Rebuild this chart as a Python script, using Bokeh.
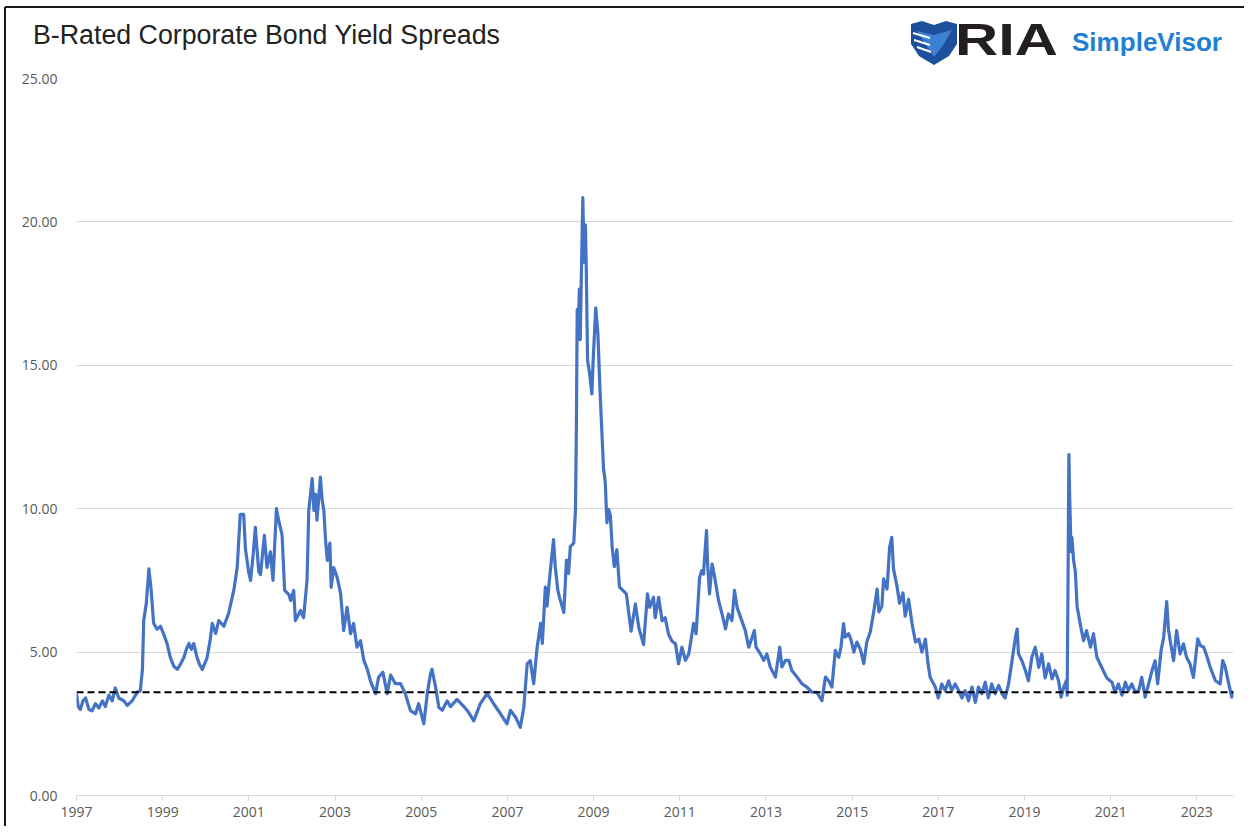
from bokeh.plotting import figure
from bokeh.layouts import column, row
from bokeh.models import (ColumnDataSource, Range1d, FixedTicker, PrintfTickFormatter, Span, Div)
from bokeh.embed import file_html
from bokeh.resources import INLINE

# ---------------- data ----------------
year = [
    1997.00, 1997.04, 1997.09, 1997.15, 1997.21, 1997.29, 1997.36, 1997.44, 1997.52, 1997.60,
    1997.67, 1997.75, 1997.83, 1997.90, 1997.98, 1998.10, 1998.18, 1998.29, 1998.41, 1998.48,
    1998.53, 1998.56, 1998.62, 1998.68, 1998.73, 1998.79, 1998.87, 1998.95, 1999.03, 1999.10,
    1999.18, 1999.26, 1999.34, 1999.42, 1999.49, 1999.55, 1999.61, 1999.67, 1999.72, 1999.80,
    1999.86, 1999.92, 2000.03, 2000.10, 2000.15, 2000.23, 2000.30, 2000.42, 2000.53, 2000.65,
    2000.73, 2000.80, 2000.88, 2000.92, 2001.00, 2001.04, 2001.10, 2001.15, 2001.23, 2001.27,
    2001.36, 2001.42, 2001.50, 2001.56, 2001.64, 2001.69, 2001.77, 2001.83, 2001.93, 2001.97,
    2002.04, 2002.08, 2002.20, 2002.27, 2002.35, 2002.39, 2002.47, 2002.51, 2002.55, 2002.58,
    2002.66, 2002.70, 2002.74, 2002.78, 2002.82, 2002.88, 2002.91, 2002.97, 2003.05, 2003.13,
    2003.20, 2003.28, 2003.36, 2003.43, 2003.51, 2003.59, 2003.67, 2003.75, 2003.82, 2003.94,
    2004.01, 2004.11, 2004.21, 2004.29, 2004.40, 2004.52, 2004.63, 2004.75, 2004.87, 2004.94,
    2005.06, 2005.14, 2005.21, 2005.25, 2005.33, 2005.41, 2005.49, 2005.60, 2005.68, 2005.83,
    2005.99, 2006.10, 2006.22, 2006.37, 2006.53, 2006.68, 2006.84, 2006.99, 2007.07, 2007.19,
    2007.30, 2007.38, 2007.46, 2007.53, 2007.61, 2007.69, 2007.77, 2007.81, 2007.88, 2007.92,
    2007.98, 2008.07, 2008.11, 2008.17, 2008.21, 2008.31, 2008.37, 2008.42, 2008.46, 2008.54,
    2008.58, 2008.60, 2008.62, 2008.64, 2008.67, 2008.69, 2008.71, 2008.75, 2008.78, 2008.81,
    2008.83, 2008.86, 2008.91, 2008.96, 2008.99, 2009.05, 2009.10, 2009.14, 2009.17, 2009.23,
    2009.27, 2009.31, 2009.35, 2009.39, 2009.43, 2009.48, 2009.54, 2009.60, 2009.68, 2009.76,
    2009.87, 2009.97, 2010.05, 2010.16, 2010.25, 2010.30, 2010.39, 2010.43, 2010.51, 2010.59,
    2010.66, 2010.74, 2010.82, 2010.90, 2010.97, 2011.05, 2011.13, 2011.21, 2011.32, 2011.38,
    2011.46, 2011.51, 2011.55, 2011.62, 2011.65, 2011.69, 2011.75, 2011.81, 2011.90, 2011.98,
    2012.06, 2012.13, 2012.21, 2012.27, 2012.33, 2012.41, 2012.52, 2012.60, 2012.68, 2012.73,
    2012.77, 2012.87, 2012.95, 2013.02, 2013.10, 2013.22, 2013.32, 2013.37, 2013.45, 2013.53,
    2013.60, 2013.72, 2013.84, 2013.95, 2014.07, 2014.18, 2014.30, 2014.38, 2014.45, 2014.53,
    2014.61, 2014.69, 2014.74, 2014.80, 2014.84, 2014.92, 2014.98, 2015.04, 2015.11, 2015.19,
    2015.27, 2015.34, 2015.42, 2015.50, 2015.58, 2015.62, 2015.69, 2015.73, 2015.81, 2015.87,
    2015.92, 2015.96, 2016.04, 2016.10, 2016.18, 2016.23, 2016.31, 2016.39, 2016.47, 2016.55,
    2016.62, 2016.70, 2016.76, 2016.81, 2016.93, 2017.00, 2017.08, 2017.16, 2017.24, 2017.31,
    2017.39, 2017.47, 2017.55, 2017.62, 2017.70, 2017.78, 2017.86, 2017.93, 2018.01, 2018.09,
    2018.16, 2018.24, 2018.32, 2018.40, 2018.48, 2018.55, 2018.63, 2018.71, 2018.79, 2018.83,
    2018.86, 2018.94, 2019.02, 2019.09, 2019.17, 2019.25, 2019.33, 2019.40, 2019.48, 2019.56,
    2019.64, 2019.71, 2019.79, 2019.85, 2019.91, 2019.97, 2019.99, 2020.01, 2020.03, 2020.05,
    2020.08, 2020.10, 2020.14, 2020.18, 2020.22, 2020.29, 2020.37, 2020.44, 2020.53, 2020.60,
    2020.68, 2020.79, 2020.91, 2021.03, 2021.10, 2021.18, 2021.26, 2021.34, 2021.41, 2021.49,
    2021.57, 2021.65, 2021.72, 2021.80, 2021.88, 2021.96, 2022.03, 2022.09, 2022.17, 2022.23,
    2022.30, 2022.34, 2022.38, 2022.46, 2022.53, 2022.61, 2022.69, 2022.76, 2022.84, 2022.92,
    2023.02, 2023.08, 2023.16, 2023.24, 2023.31, 2023.43, 2023.54, 2023.60, 2023.66, 2023.74,
    2023.81, 2023.85,
]

spread = [
    3.55, 3.10, 3.00, 3.30, 3.40, 3.00, 2.95, 3.20, 3.05, 3.30,
    3.10, 3.50, 3.30, 3.75, 3.40, 3.30, 3.14, 3.30, 3.60, 3.65,
    4.40, 6.10, 6.70, 7.90, 7.20, 6.00, 5.80, 5.90, 5.60, 5.30,
    4.80, 4.50, 4.40, 4.60, 4.80, 5.10, 5.30, 5.10, 5.30, 4.80,
    4.55, 4.40, 4.80, 5.40, 6.00, 5.65, 6.10, 5.90, 6.35, 7.15,
    7.95, 9.80, 9.80, 8.60, 7.75, 7.50, 8.40, 9.35, 7.80, 7.70,
    9.07, 7.95, 8.50, 7.50, 10.00, 9.60, 9.10, 7.15, 7.00, 6.80,
    7.15, 6.10, 6.45, 6.20, 7.50, 9.94, 11.05, 9.94, 10.50, 9.60,
    11.10, 10.30, 9.94, 8.90, 8.20, 8.80, 7.26, 7.95, 7.60, 7.03,
    5.75, 6.56, 5.64, 6.00, 5.17, 5.40, 4.70, 4.40, 4.00, 3.55,
    4.12, 4.30, 3.55, 4.20, 3.90, 3.90, 3.55, 2.96, 2.85, 3.20,
    2.50, 3.55, 4.20, 4.40, 3.80, 3.07, 2.97, 3.30, 3.10, 3.35,
    3.10, 2.90, 2.60, 3.20, 3.55, 3.20, 2.85, 2.50, 2.97, 2.73,
    2.38, 3.07, 4.60, 4.70, 3.90, 5.17, 6.00, 5.30, 7.27, 6.60,
    7.60, 8.92, 7.98, 7.15, 6.91, 6.38, 8.21, 7.74, 8.68, 8.80,
    9.98, 12.80, 16.95, 15.90, 17.66, 15.90, 17.66, 20.85, 18.60, 19.90,
    18.40, 15.18, 14.70, 14.00, 15.18, 17.00, 16.10, 14.47, 13.40, 11.40,
    10.93, 9.51, 9.98, 9.75, 8.68, 7.98, 8.57, 7.27, 7.15, 7.03,
    5.73, 6.68, 5.85, 5.26, 7.03, 6.56, 6.91, 6.20, 6.91, 6.09,
    6.20, 5.62, 5.38, 5.29, 4.59, 5.17, 4.71, 4.94, 6.00, 5.64,
    7.61, 7.84, 7.72, 9.24, 7.96, 7.03, 8.07, 7.61, 6.80, 6.33,
    5.81, 6.33, 6.10, 7.15, 6.56, 6.22, 5.75, 5.17, 5.52, 5.75,
    5.17, 4.94, 4.71, 4.94, 4.48, 4.13, 5.17, 4.48, 4.71, 4.71,
    4.36, 4.13, 3.89, 3.78, 3.60, 3.60, 3.31, 4.13, 4.01, 3.78,
    5.06, 4.82, 5.17, 5.99, 5.52, 5.64, 5.40, 5.00, 5.35, 5.10,
    4.60, 5.35, 5.70, 6.40, 7.20, 6.40, 6.60, 7.55, 7.20, 8.66,
    9.00, 7.90, 7.30, 6.70, 7.06, 6.25, 6.84, 6.00, 5.35, 5.45,
    5.00, 5.45, 4.60, 4.12, 3.78, 3.40, 3.89, 3.66, 4.00, 3.66,
    3.89, 3.66, 3.40, 3.66, 3.30, 3.78, 3.25, 3.78, 3.55, 3.95,
    3.40, 3.89, 3.55, 3.84, 3.55, 3.40, 3.89, 4.70, 5.52, 5.80,
    4.94, 4.70, 4.36, 4.00, 4.82, 5.17, 4.47, 4.94, 4.10, 4.59,
    4.07, 4.36, 4.00, 3.43, 3.78, 4.00, 3.50, 7.50, 11.89, 10.30,
    8.50, 9.00, 8.20, 7.80, 6.60, 6.00, 5.40, 5.75, 5.17, 5.64,
    4.82, 4.47, 4.10, 3.95, 3.60, 3.89, 3.50, 3.95, 3.66, 3.89,
    3.60, 3.66, 4.12, 3.43, 3.89, 4.36, 4.70, 3.89, 5.06, 5.52,
    6.76, 5.80, 5.40, 4.70, 5.75, 4.94, 5.29, 4.82, 4.59, 4.12,
    5.46, 5.23, 5.17, 4.82, 4.47, 4.00, 3.89, 4.70, 4.47, 3.89,
    3.43, 3.65,
]

reference_level = 3.6

x_ticks = [1997, 1999, 2001, 2003, 2005, 2007, 2009, 2011, 2013, 2015, 2017, 2019, 2021, 2023]
x_tick_labels = ["1997", "1999", "2001", "2003", "2005", "2007", "2009",
                 "2011", "2013", "2015", "2017", "2019", "2021", "2023"]
y_ticks = [0, 5, 10, 15, 20, 25]

title_text = "B-Rated Corporate Bond Yield Spreads"
brand_main = "RIA"
brand_sub = "SimpleVisor"

W = 1244
HEAD_H = 70
MAIN_H = 756
STRIP_W = 8
EDGE = "#1a1a1a"

# ---------------- header (title + brand), as inline SVG text ----------------
header_svg = f"""
<svg xmlns="http://www.w3.org/2000/svg" width="{W}" height="{HEAD_H}" style="display:block">
  <rect x="0" y="0" width="{W}" height="{HEAD_H}" fill="white"/>
  <line x1="5" y1="7" x2="{W}" y2="7" stroke="{EDGE}" stroke-width="2"/>
  <line x1="5" y1="7" x2="5" y2="{HEAD_H}" stroke="{EDGE}" stroke-width="2"/>
  <text x="33" y="44" font-family="Liberation Sans, Arial, sans-serif" font-size="27"
        fill="#222222" textLength="467" lengthAdjust="spacingAndGlyphs">{title_text}</text>
  <polygon points="911,24 922,21 934,25 946,21 957,24 957,44 949,56 934,65 919,56 911,44"
           fill="#1d4f9c"/>
  <polygon points="917,31 934,35 952,30 944,44 934,57 926,45" fill="#3d7fd0"/>
  <path d="M913,33 L930,38 M914,40 L930,45 M917,47 L931,52" stroke="white" stroke-width="2"/>
  <text x="955" y="55" font-family="DejaVu Sans, sans-serif" font-size="44" font-weight="bold"
        fill="#231f20" textLength="103" lengthAdjust="spacingAndGlyphs">{brand_main}</text>
  <text x="1072" y="51" font-family="Liberation Sans, Arial, sans-serif" font-size="25"
        font-weight="bold" fill="#1f7fd1" textLength="150" lengthAdjust="spacingAndGlyphs">{brand_sub}</text>
</svg>
"""
head = Div(text=header_svg, width=W, height=HEAD_H, styles={"margin": "0", "padding": "0"})

strip_svg = f"""
<svg xmlns="http://www.w3.org/2000/svg" width="{STRIP_W}" height="{MAIN_H}" style="display:block">
  <rect x="0" y="0" width="{STRIP_W}" height="{MAIN_H}" fill="white"/>
  <line x1="5" y1="0" x2="5" y2="{MAIN_H}" stroke="{EDGE}" stroke-width="2"/>
</svg>
"""
strip = Div(text=strip_svg, width=STRIP_W, height=MAIN_H, styles={"margin": "0", "padding": "0"})

# ---------------- main chart ----------------
frame_left, frame_right_pad, frame_top, frame_bottom_pad = 76 - STRIP_W, 11, 8, 31
p = figure(width=W - STRIP_W, height=MAIN_H, output_backend="svg", toolbar_location=None,
           x_range=Range1d(year[0], year[-1]), y_range=Range1d(0, 25),
           min_border_left=frame_left, min_border_right=frame_right_pad,
           min_border_top=frame_top, min_border_bottom=frame_bottom_pad,
           background_fill_color="white", border_fill_color="white")
p.outline_line_color = None

src = ColumnDataSource(data=dict(year=year, spread=spread))
p.line("year", "spread", source=src, line_color="#4472C4", line_width=3.2, line_join="round")

p.add_layout(Span(location=reference_level, dimension="width", line_color="black",
                  line_width=2, line_dash="7 4"))

FONT = "Open Sans"
LBL = "#595959"
p.xgrid.visible = False
p.ygrid.grid_line_color = "#d9d9d9"
p.ygrid.grid_line_width = 1
p.yaxis.ticker = FixedTicker(ticks=y_ticks)
p.yaxis.formatter = PrintfTickFormatter(format="%.2f")
p.yaxis.axis_line_color = None
p.yaxis.major_tick_line_color = None
p.yaxis.minor_tick_line_color = None
p.yaxis.major_tick_out = 0
p.yaxis.major_label_standoff = 19
p.yaxis.major_label_text_font = FONT
p.yaxis.major_label_text_font_size = "14px"
p.yaxis.major_label_text_color = LBL

p.xaxis.ticker = FixedTicker(ticks=x_ticks)
p.xaxis.major_label_overrides = {t: l for t, l in zip(x_ticks, x_tick_labels)}
p.xaxis.axis_line_color = "#d9d9d9"
p.xaxis.major_tick_line_color = "#d9d9d9"
p.xaxis.minor_tick_line_color = None
p.xaxis.major_tick_out = 5
p.xaxis.major_tick_in = 0
p.xaxis.major_label_standoff = 6
p.xaxis.major_label_text_font = FONT
p.xaxis.major_label_text_font_size = "14px"
p.xaxis.major_label_text_color = LBL

layout = column(head, row(strip, p, spacing=0), spacing=0)
open("out.html", "w").write(file_html(layout, INLINE))
